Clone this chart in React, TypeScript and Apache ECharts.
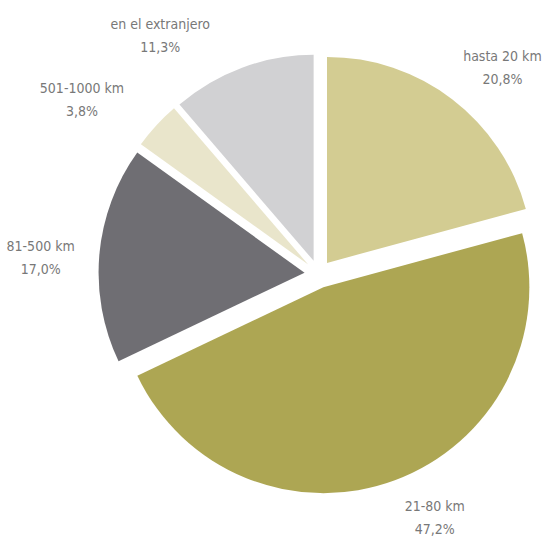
import React, { useEffect, useRef } from "react";
import * as echarts from "echarts";

const categories = ["hasta 20 km", "21-80 km", "81-500 km", "501-1000 km", "en el extranjero"];
const values = [20.8, 47.2, 17.0, 3.8, 11.3];
const colors = ["#D3CC92", "#ADA653", "#6F6E73", "#E9E5CB", "#D1D1D3"];
// label nudges (px) relative to the mid-angle position
const labelNudges: [number, number][] = [
  [12, 18],
  [18, -22],
  [4, 9],
  [-28, 17],
  [-60, 27],
];

const fmt = (v: number) => v.toFixed(1).replace(".", ",") + "%";

export default function App() {
  const ref = useRef<HTMLDivElement>(null);
  useEffect(() => {
    if (!ref.current) return;
    const chart = echarts.init(ref.current, undefined, { renderer: "svg" });
    const center = [318.5, 274];
    chart.setOption({
      animation: false,
      backgroundColor: "#ffffff",
      series: [
        {
          type: "pie",
          center,
          radius: 206,
          startAngle: 90,
          clockwise: true,
          selectedMode: "multiple",
          selectedOffset: 14,
          emphasis: { disabled: true },
          label: { show: false },
          labelLine: { show: false },
          data: categories.map((name, i) => ({
            name,
            value: values[i],
            selected: true,
            itemStyle: { color: colors[i], borderWidth: 0 },
            select: { itemStyle: { color: colors[i], borderWidth: 0 } },
          })),
        },
        {
          type: "pie",
          center,
          radius: [262, 298],
          startAngle: 90,
          clockwise: true,
          silent: true,
          selectedMode: false,
          emphasis: { disabled: true },
          itemStyle: { color: "rgba(0,0,0,0)" },
          labelLine: { show: false },
          label: {
            show: true,
            position: "inside",
            rotate: 0,
            color: "#787878",
            fontFamily: "'DejaVu Sans Condensed', 'Liberation Sans Narrow', 'Roboto', sans-serif",
            fontSize: 14,
            lineHeight: 23,
            align: "center",
            formatter: (p: any) => `${p.name}\n${fmt(p.value)}`,
          },
          labelLayout: (p: any) => {
            const n = labelNudges[p.dataIndex] || [0, 0];
            return { dx: n[0], dy: n[1] };
          },
          data: categories.map((name, i) => ({ name, value: values[i] })),
        },
      ],
    });
    return () => chart.dispose();
  }, []);
  return (
    <div
      ref={ref}
      style={{ position: "absolute", left: 0, top: 0, width: 543, height: 537 }}
    />
  );
}
